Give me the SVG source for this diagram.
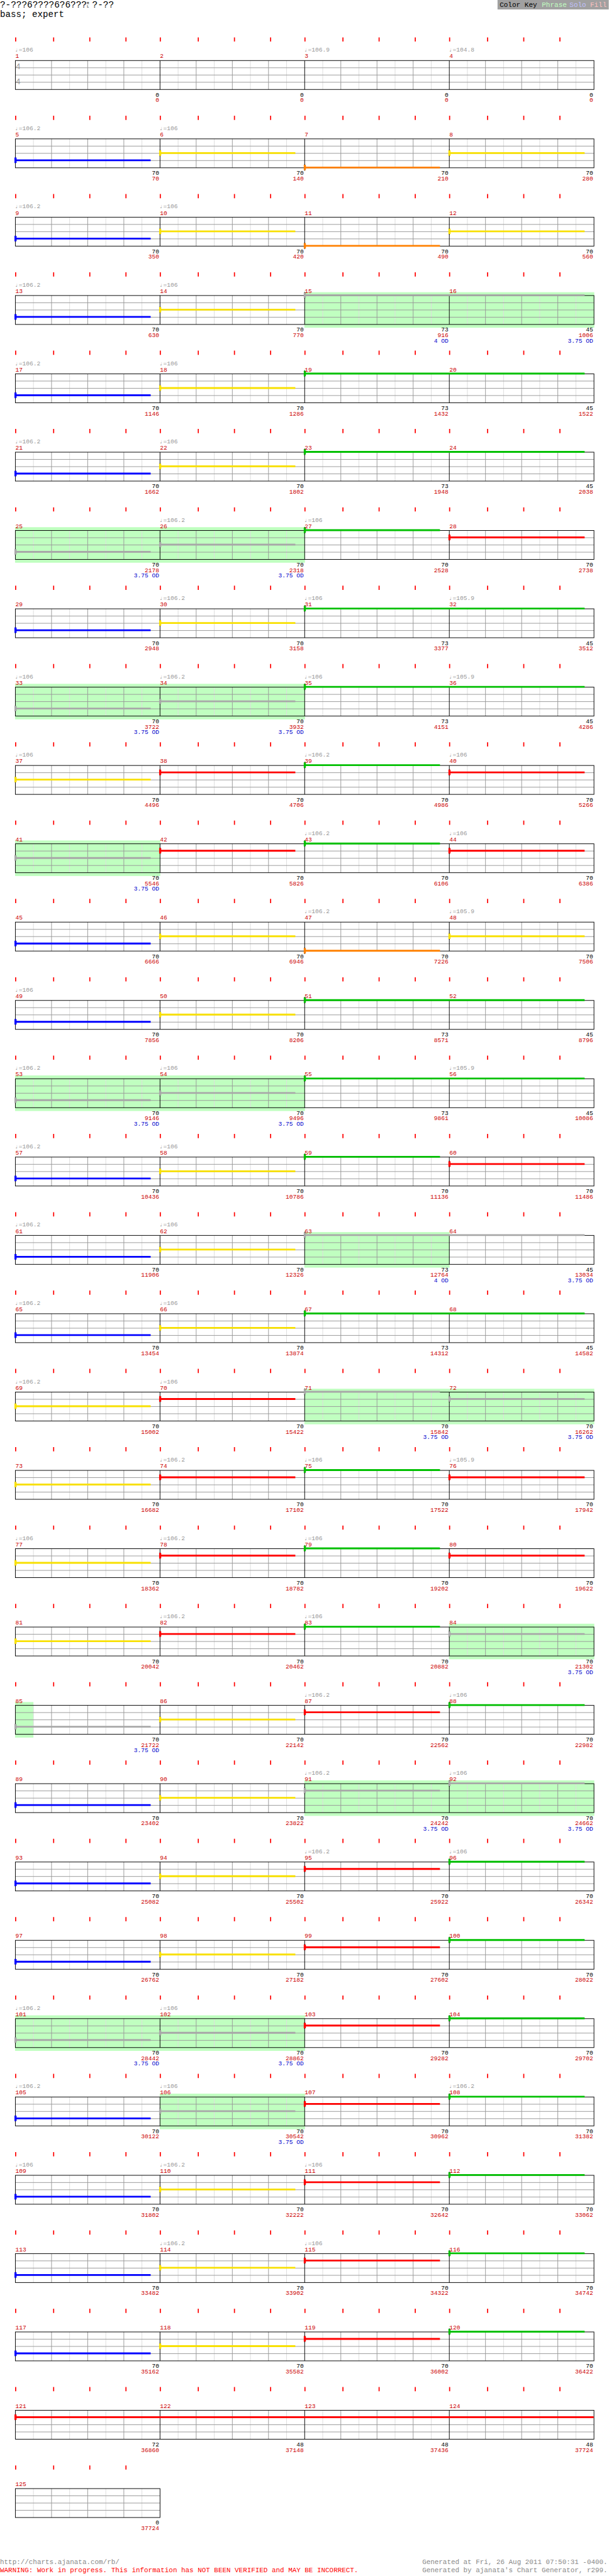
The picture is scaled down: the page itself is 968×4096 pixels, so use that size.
<svg xmlns="http://www.w3.org/2000/svg" xmlns:xlink="http://www.w3.org/1999/xlink" width="968" height="4096" viewBox="0 0 968 4096">
<defs>
<style>
text{font-family:"Liberation Mono","DejaVu Sans Mono",monospace;font-size:10px}
.tk{stroke:#f00;stroke-width:1.8;fill:none}
.hb{stroke:#ddd;stroke-width:1;fill:none}
.bt{stroke:#999;stroke-width:1;fill:none}
.ms{stroke:#000;stroke-width:1;fill:none}
.fl{fill:#c0ffc0}
.sus{stroke:currentColor;stroke-width:3;fill:none}
.k{stroke:#000;stroke-width:1;fill:none}
.G{color:#00c000}.R{color:#f00}.Y{color:#f8e000}.B{color:#00f}.O{color:#ff8000}.P{color:#a8a8a8}
.tm{fill:#999}
.mn{fill:#c00}
.lk{fill:#000;text-anchor:end}
.lr{fill:#c00;text-anchor:end}
.lo{fill:#00c;text-anchor:end}
.ts{font-family:"Liberation Sans",Arial,sans-serif;font-size:14px;fill:#999}
.ft{font-size:11.4px}
</style>
<g id="st4">
<path class="hb" d="M30 0V48M90 0V48M150 0V48M210 0V48M270 0V48M330 0V48M390 0V48M450 0V48M510 0V48M570 0V48M630 0V48M690 0V48M750 0V48M810 0V48M870 0V48M930 0V48"/>
<path class="bt" d="M60 0V48M120 0V48M180 0V48M300 0V48M360 0V48M420 0V48M540 0V48M600 0V48M660 0V48M780 0V48M840 0V48M900 0V48M0 12H960M0 24H960M0 36H960"/>
<path class="ms" d="M240 0V48M480 0V48M720 0V48"/>
<rect class="ms" x="0" y="0" width="960" height="48"/>
</g>
<g id="st1">
<path class="hb" d="M30 0V48M90 0V48M150 0V48M210 0V48"/>
<path class="bt" d="M60 0V48M120 0V48M180 0V48M0 12H240M0 24H240M0 36H240"/>
<rect class="ms" x="0" y="0" width="240" height="48"/>
</g>
<path id="tk4" class="tk" d="M26 -38v7M89 -38v7M149 -38v7M209 -38v7M266 -38v7M329 -38v7M389 -38v7M449 -38v7M506 -38v7M569 -38v7M629 -38v7M689 -38v7M746 -38v7M809 -38v7M869 -38v7M929 -38v7"/>
<path id="tk1" class="tk" d="M26 -38v7M89 -38v7M149 -38v7M209 -38v7"/>
<g id="hd"><path class="k" d="M0.5 -5.5v11"/><rect x="-1" y="-4.5" width="3.5" height="9" fill="currentColor"/></g>
</defs>
<rect x="0" y="0" width="968" height="4096" fill="#fff"/>
<g transform="scale(0.958)">

<g id="header">
<text x="0" y="12.7" style="font-size:15px">?-???6????6?6???</text>
<text x="144" y="7.5" style="font-size:6px">M</text>
<text x="144" y="12.7" style="font-size:6px">L</text>
<text x="153" y="12.7" style="font-size:15px">?-??</text>
<text x="0" y="28.3" style="font-size:14.8px">bass; expert</text>
</g>
<g id="colorkey">
<rect x="825.5" y="0" width="184.5" height="15.7" fill="#a0a0a0"/>
<text x="829" y="11.3" style="font-size:11.5px" fill="#000">Color Key</text>
<text x="899" y="11.3" style="font-size:11.5px" fill="#c0ffc0">Phrase</text>
<text x="945" y="11.3" style="font-size:11.5px" fill="#c0c0ff">Solo</text>
<text x="979" y="11.3" style="font-size:11.5px" fill="#ffc0c0">Fill</text>
</g>

<g id="row1" transform="translate(0,100)">
<use href="#tk4"/><use href="#st4" x="25.5" y="0.5"/>
<text class="ts" x="26" y="15">4</text><text class="ts" x="26" y="40">4</text>
<text class="tm" x="25" y="-14">♩=106</text><text class="tm" x="505" y="-14">♩=106.9</text><text class="tm" x="745" y="-14">♩=104.8</text>
<text class="mn" x="25.5" y="-3.5">1</text><text class="mn" x="265.5" y="-3.5">2</text><text class="mn" x="505.5" y="-3.5">3</text><text class="mn" x="745.5" y="-3.5">4</text>
<text class="lk" x="264" y="60.5">0</text><text class="lr" x="264" y="69.5">0</text>
<text class="lk" x="504" y="60.5">0</text><text class="lr" x="504" y="69.5">0</text>
<text class="lk" x="744" y="60.5">0</text><text class="lr" x="744" y="69.5">0</text>
<text class="lk" x="984" y="60.5">0</text><text class="lr" x="984" y="69.5">0</text>
</g>

<g id="row2" transform="translate(0,230)">
<use href="#tk4"/><use href="#st4" x="25.5" y="0.5"/>
<g class="B"><path class="sus" d="M25 36h225"/><use href="#hd" x="25" y="36"/></g>
<g class="Y"><path class="sus" d="M265 24h225"/><use href="#hd" x="265" y="24"/></g>
<g class="O"><path class="sus" d="M505 48h225"/><use href="#hd" x="505" y="48"/></g>
<g class="Y"><path class="sus" d="M745 24h225"/><use href="#hd" x="745" y="24"/></g>
<text class="tm" x="25" y="-14">♩=106.2</text><text class="tm" x="265" y="-14">♩=106</text>
<text class="mn" x="25.5" y="-3.5">5</text><text class="mn" x="265.5" y="-3.5">6</text><text class="mn" x="505.5" y="-3.5">7</text><text class="mn" x="745.5" y="-3.5">8</text>
<text class="lk" x="264" y="60.5">70</text><text class="lr" x="264" y="69.5">70</text>
<text class="lk" x="504" y="60.5">70</text><text class="lr" x="504" y="69.5">140</text>
<text class="lk" x="744" y="60.5">70</text><text class="lr" x="744" y="69.5">210</text>
<text class="lk" x="984" y="60.5">70</text><text class="lr" x="984" y="69.5">280</text>
</g>

<g id="row3" transform="translate(0,360)">
<use href="#tk4"/><use href="#st4" x="25.5" y="0.5"/>
<g class="B"><path class="sus" d="M25 36h225"/><use href="#hd" x="25" y="36"/></g>
<g class="Y"><path class="sus" d="M265 24h225"/><use href="#hd" x="265" y="24"/></g>
<g class="O"><path class="sus" d="M505 48h225"/><use href="#hd" x="505" y="48"/></g>
<g class="Y"><path class="sus" d="M745 24h225"/><use href="#hd" x="745" y="24"/></g>
<text class="tm" x="25" y="-14">♩=106.2</text><text class="tm" x="265" y="-14">♩=106</text>
<text class="mn" x="25.5" y="-3.5">9</text><text class="mn" x="265.5" y="-3.5">10</text><text class="mn" x="505.5" y="-3.5">11</text><text class="mn" x="745.5" y="-3.5">12</text>
<text class="lk" x="264" y="60.5">70</text><text class="lr" x="264" y="69.5">350</text>
<text class="lk" x="504" y="60.5">70</text><text class="lr" x="504" y="69.5">420</text>
<text class="lk" x="744" y="60.5">70</text><text class="lr" x="744" y="69.5">490</text>
<text class="lk" x="984" y="60.5">70</text><text class="lr" x="984" y="69.5">560</text>
</g>

<g id="row4" transform="translate(0,490)">
<rect class="fl" x="505" y="-5" width="481" height="59"/>
<use href="#tk4"/><use href="#st4" x="25.5" y="0.5"/>
<g class="B"><path class="sus" d="M25 36h225"/><use href="#hd" x="25" y="36"/></g>
<g class="Y"><path class="sus" d="M265 24h225"/><use href="#hd" x="265" y="24"/></g>
<g class="P"><path class="sus" d="M505 0h465"/><use href="#hd" x="505" y="0"/></g>
<text class="tm" x="25" y="-14">♩=106.2</text><text class="tm" x="265" y="-14">♩=106</text>
<text class="mn" x="25.5" y="-3.5">13</text><text class="mn" x="265.5" y="-3.5">14</text><text class="mn" x="505.5" y="-3.5">15</text><text class="mn" x="745.5" y="-3.5">16</text>
<text class="lk" x="264" y="60.5">70</text><text class="lr" x="264" y="69.5">630</text>
<text class="lk" x="504" y="60.5">70</text><text class="lr" x="504" y="69.5">770</text>
<text class="lk" x="744" y="60.5">73</text><text class="lr" x="744" y="69.5">916</text><text class="lo" x="744" y="78.5">4 OD</text>
<text class="lk" x="984" y="60.5">45</text><text class="lr" x="984" y="69.5">1006</text><text class="lo" x="984" y="78.5">3.75 OD</text>
</g>

<g id="row5" transform="translate(0,620)">
<use href="#tk4"/><use href="#st4" x="25.5" y="0.5"/>
<g class="B"><path class="sus" d="M25 36h225"/><use href="#hd" x="25" y="36"/></g>
<g class="Y"><path class="sus" d="M265 24h225"/><use href="#hd" x="265" y="24"/></g>
<g class="G"><path class="sus" d="M505 0h465"/><use href="#hd" x="505" y="0"/></g>
<text class="tm" x="25" y="-14">♩=106.2</text><text class="tm" x="265" y="-14">♩=106</text>
<text class="mn" x="25.5" y="-3.5">17</text><text class="mn" x="265.5" y="-3.5">18</text><text class="mn" x="505.5" y="-3.5">19</text><text class="mn" x="745.5" y="-3.5">20</text>
<text class="lk" x="264" y="60.5">70</text><text class="lr" x="264" y="69.5">1146</text>
<text class="lk" x="504" y="60.5">70</text><text class="lr" x="504" y="69.5">1286</text>
<text class="lk" x="744" y="60.5">73</text><text class="lr" x="744" y="69.5">1432</text>
<text class="lk" x="984" y="60.5">45</text><text class="lr" x="984" y="69.5">1522</text>
</g>

<g id="row6" transform="translate(0,750)">
<use href="#tk4"/><use href="#st4" x="25.5" y="0.5"/>
<g class="B"><path class="sus" d="M25 36h225"/><use href="#hd" x="25" y="36"/></g>
<g class="Y"><path class="sus" d="M265 24h225"/><use href="#hd" x="265" y="24"/></g>
<g class="G"><path class="sus" d="M505 0h465"/><use href="#hd" x="505" y="0"/></g>
<text class="tm" x="25" y="-14">♩=106.2</text><text class="tm" x="265" y="-14">♩=106</text>
<text class="mn" x="25.5" y="-3.5">21</text><text class="mn" x="265.5" y="-3.5">22</text><text class="mn" x="505.5" y="-3.5">23</text><text class="mn" x="745.5" y="-3.5">24</text>
<text class="lk" x="264" y="60.5">70</text><text class="lr" x="264" y="69.5">1662</text>
<text class="lk" x="504" y="60.5">70</text><text class="lr" x="504" y="69.5">1802</text>
<text class="lk" x="744" y="60.5">73</text><text class="lr" x="744" y="69.5">1948</text>
<text class="lk" x="984" y="60.5">45</text><text class="lr" x="984" y="69.5">2038</text>
</g>

<g id="row7" transform="translate(0,880)">
<rect class="fl" x="25" y="-5" width="481" height="59"/>
<use href="#tk4"/><use href="#st4" x="25.5" y="0.5"/>
<g class="P"><path class="sus" d="M25 36h225"/><use href="#hd" x="25" y="36"/></g>
<g class="P"><path class="sus" d="M265 24h225"/><use href="#hd" x="265" y="24"/></g>
<g class="G"><path class="sus" d="M505 0h225"/><use href="#hd" x="505" y="0"/></g>
<g class="R"><path class="sus" d="M745 12h225"/><use href="#hd" x="745" y="12"/></g>
<text class="tm" x="265" y="-14">♩=106.2</text><text class="tm" x="505" y="-14">♩=106</text>
<text class="mn" x="25.5" y="-3.5">25</text><text class="mn" x="265.5" y="-3.5">26</text><text class="mn" x="505.5" y="-3.5">27</text><text class="mn" x="745.5" y="-3.5">28</text>
<text class="lk" x="264" y="60.5">70</text><text class="lr" x="264" y="69.5">2178</text><text class="lo" x="264" y="78.5">3.75 OD</text>
<text class="lk" x="504" y="60.5">70</text><text class="lr" x="504" y="69.5">2318</text><text class="lo" x="504" y="78.5">3.75 OD</text>
<text class="lk" x="744" y="60.5">70</text><text class="lr" x="744" y="69.5">2528</text>
<text class="lk" x="984" y="60.5">70</text><text class="lr" x="984" y="69.5">2738</text>
</g>

<g id="row8" transform="translate(0,1010)">
<use href="#tk4"/><use href="#st4" x="25.5" y="0.5"/>
<g class="B"><path class="sus" d="M25 36h225"/><use href="#hd" x="25" y="36"/></g>
<g class="Y"><path class="sus" d="M265 24h225"/><use href="#hd" x="265" y="24"/></g>
<g class="G"><path class="sus" d="M505 0h465"/><use href="#hd" x="505" y="0"/></g>
<text class="tm" x="265" y="-14">♩=106.2</text><text class="tm" x="505" y="-14">♩=106</text><text class="tm" x="745" y="-14">♩=105.9</text>
<text class="mn" x="25.5" y="-3.5">29</text><text class="mn" x="265.5" y="-3.5">30</text><text class="mn" x="505.5" y="-3.5">31</text><text class="mn" x="745.5" y="-3.5">32</text>
<text class="lk" x="264" y="60.5">70</text><text class="lr" x="264" y="69.5">2948</text>
<text class="lk" x="504" y="60.5">70</text><text class="lr" x="504" y="69.5">3158</text>
<text class="lk" x="744" y="60.5">73</text><text class="lr" x="744" y="69.5">3377</text>
<text class="lk" x="984" y="60.5">45</text><text class="lr" x="984" y="69.5">3512</text>
</g>

<g id="row9" transform="translate(0,1140)">
<rect class="fl" x="25" y="-5" width="481" height="59"/>
<use href="#tk4"/><use href="#st4" x="25.5" y="0.5"/>
<g class="P"><path class="sus" d="M25 36h225"/><use href="#hd" x="25" y="36"/></g>
<g class="P"><path class="sus" d="M265 24h225"/><use href="#hd" x="265" y="24"/></g>
<g class="G"><path class="sus" d="M505 0h465"/><use href="#hd" x="505" y="0"/></g>
<text class="tm" x="25" y="-14">♩=106</text><text class="tm" x="265" y="-14">♩=106.2</text><text class="tm" x="505" y="-14">♩=106</text><text class="tm" x="745" y="-14">♩=105.9</text>
<text class="mn" x="25.5" y="-3.5">33</text><text class="mn" x="265.5" y="-3.5">34</text><text class="mn" x="505.5" y="-3.5">35</text><text class="mn" x="745.5" y="-3.5">36</text>
<text class="lk" x="264" y="60.5">70</text><text class="lr" x="264" y="69.5">3722</text><text class="lo" x="264" y="78.5">3.75 OD</text>
<text class="lk" x="504" y="60.5">70</text><text class="lr" x="504" y="69.5">3932</text><text class="lo" x="504" y="78.5">3.75 OD</text>
<text class="lk" x="744" y="60.5">73</text><text class="lr" x="744" y="69.5">4151</text>
<text class="lk" x="984" y="60.5">45</text><text class="lr" x="984" y="69.5">4286</text>
</g>

<g id="row10" transform="translate(0,1270)">
<use href="#tk4"/><use href="#st4" x="25.5" y="0.5"/>
<g class="Y"><path class="sus" d="M25 24h225"/><use href="#hd" x="25" y="24"/></g>
<g class="R"><path class="sus" d="M265 12h225"/><use href="#hd" x="265" y="12"/></g>
<g class="G"><path class="sus" d="M505 0h225"/><use href="#hd" x="505" y="0"/></g>
<g class="R"><path class="sus" d="M745 12h225"/><use href="#hd" x="745" y="12"/></g>
<text class="tm" x="25" y="-14">♩=106</text><text class="tm" x="505" y="-14">♩=106.2</text><text class="tm" x="745" y="-14">♩=106</text>
<text class="mn" x="25.5" y="-3.5">37</text><text class="mn" x="265.5" y="-3.5">38</text><text class="mn" x="505.5" y="-3.5">39</text><text class="mn" x="745.5" y="-3.5">40</text>
<text class="lk" x="264" y="60.5">70</text><text class="lr" x="264" y="69.5">4496</text>
<text class="lk" x="504" y="60.5">70</text><text class="lr" x="504" y="69.5">4706</text>
<text class="lk" x="744" y="60.5">70</text><text class="lr" x="744" y="69.5">4986</text>
<text class="lk" x="984" y="60.5">70</text><text class="lr" x="984" y="69.5">5266</text>
</g>

<g id="row11" transform="translate(0,1400)">
<rect class="fl" x="25" y="-5" width="241" height="59"/>
<use href="#tk4"/><use href="#st4" x="25.5" y="0.5"/>
<g class="P"><path class="sus" d="M25 24h225"/><use href="#hd" x="25" y="24"/></g>
<g class="R"><path class="sus" d="M265 12h225"/><use href="#hd" x="265" y="12"/></g>
<g class="G"><path class="sus" d="M505 0h225"/><use href="#hd" x="505" y="0"/></g>
<g class="R"><path class="sus" d="M745 12h225"/><use href="#hd" x="745" y="12"/></g>
<text class="tm" x="505" y="-14">♩=106.2</text><text class="tm" x="745" y="-14">♩=106</text>
<text class="mn" x="25.5" y="-3.5">41</text><text class="mn" x="265.5" y="-3.5">42</text><text class="mn" x="505.5" y="-3.5">43</text><text class="mn" x="745.5" y="-3.5">44</text>
<text class="lk" x="264" y="60.5">70</text><text class="lr" x="264" y="69.5">5546</text><text class="lo" x="264" y="78.5">3.75 OD</text>
<text class="lk" x="504" y="60.5">70</text><text class="lr" x="504" y="69.5">5826</text>
<text class="lk" x="744" y="60.5">70</text><text class="lr" x="744" y="69.5">6106</text>
<text class="lk" x="984" y="60.5">70</text><text class="lr" x="984" y="69.5">6386</text>
</g>

<g id="row12" transform="translate(0,1530)">
<use href="#tk4"/><use href="#st4" x="25.5" y="0.5"/>
<g class="B"><path class="sus" d="M25 36h225"/><use href="#hd" x="25" y="36"/></g>
<g class="Y"><path class="sus" d="M265 24h225"/><use href="#hd" x="265" y="24"/></g>
<g class="O"><path class="sus" d="M505 48h225"/><use href="#hd" x="505" y="48"/></g>
<g class="Y"><path class="sus" d="M745 24h225"/><use href="#hd" x="745" y="24"/></g>
<text class="tm" x="505" y="-14">♩=106.2</text><text class="tm" x="745" y="-14">♩=105.9</text>
<text class="mn" x="25.5" y="-3.5">45</text><text class="mn" x="265.5" y="-3.5">46</text><text class="mn" x="505.5" y="-3.5">47</text><text class="mn" x="745.5" y="-3.5">48</text>
<text class="lk" x="264" y="60.5">70</text><text class="lr" x="264" y="69.5">6666</text>
<text class="lk" x="504" y="60.5">70</text><text class="lr" x="504" y="69.5">6946</text>
<text class="lk" x="744" y="60.5">70</text><text class="lr" x="744" y="69.5">7226</text>
<text class="lk" x="984" y="60.5">70</text><text class="lr" x="984" y="69.5">7506</text>
</g>

<g id="row13" transform="translate(0,1660)">
<use href="#tk4"/><use href="#st4" x="25.5" y="0.5"/>
<g class="B"><path class="sus" d="M25 36h225"/><use href="#hd" x="25" y="36"/></g>
<g class="Y"><path class="sus" d="M265 24h225"/><use href="#hd" x="265" y="24"/></g>
<g class="G"><path class="sus" d="M505 0h465"/><use href="#hd" x="505" y="0"/></g>
<text class="tm" x="25" y="-14">♩=106</text>
<text class="mn" x="25.5" y="-3.5">49</text><text class="mn" x="265.5" y="-3.5">50</text><text class="mn" x="505.5" y="-3.5">51</text><text class="mn" x="745.5" y="-3.5">52</text>
<text class="lk" x="264" y="60.5">70</text><text class="lr" x="264" y="69.5">7856</text>
<text class="lk" x="504" y="60.5">70</text><text class="lr" x="504" y="69.5">8206</text>
<text class="lk" x="744" y="60.5">73</text><text class="lr" x="744" y="69.5">8571</text>
<text class="lk" x="984" y="60.5">45</text><text class="lr" x="984" y="69.5">8796</text>
</g>

<g id="row14" transform="translate(0,1790)">
<rect class="fl" x="25" y="-5" width="481" height="59"/>
<use href="#tk4"/><use href="#st4" x="25.5" y="0.5"/>
<g class="P"><path class="sus" d="M25 36h225"/><use href="#hd" x="25" y="36"/></g>
<g class="P"><path class="sus" d="M265 24h225"/><use href="#hd" x="265" y="24"/></g>
<g class="G"><path class="sus" d="M505 0h465"/><use href="#hd" x="505" y="0"/></g>
<text class="tm" x="25" y="-14">♩=106.2</text><text class="tm" x="265" y="-14">♩=106</text><text class="tm" x="745" y="-14">♩=105.9</text>
<text class="mn" x="25.5" y="-3.5">53</text><text class="mn" x="265.5" y="-3.5">54</text><text class="mn" x="505.5" y="-3.5">55</text><text class="mn" x="745.5" y="-3.5">56</text>
<text class="lk" x="264" y="60.5">70</text><text class="lr" x="264" y="69.5">9146</text><text class="lo" x="264" y="78.5">3.75 OD</text>
<text class="lk" x="504" y="60.5">70</text><text class="lr" x="504" y="69.5">9496</text><text class="lo" x="504" y="78.5">3.75 OD</text>
<text class="lk" x="744" y="60.5">73</text><text class="lr" x="744" y="69.5">9861</text>
<text class="lk" x="984" y="60.5">45</text><text class="lr" x="984" y="69.5">10086</text>
</g>

<g id="row15" transform="translate(0,1920)">
<use href="#tk4"/><use href="#st4" x="25.5" y="0.5"/>
<g class="B"><path class="sus" d="M25 36h225"/><use href="#hd" x="25" y="36"/></g>
<g class="Y"><path class="sus" d="M265 24h225"/><use href="#hd" x="265" y="24"/></g>
<g class="G"><path class="sus" d="M505 0h225"/><use href="#hd" x="505" y="0"/></g>
<g class="R"><path class="sus" d="M745 12h225"/><use href="#hd" x="745" y="12"/></g>
<text class="tm" x="25" y="-14">♩=106.2</text><text class="tm" x="265" y="-14">♩=106</text>
<text class="mn" x="25.5" y="-3.5">57</text><text class="mn" x="265.5" y="-3.5">58</text><text class="mn" x="505.5" y="-3.5">59</text><text class="mn" x="745.5" y="-3.5">60</text>
<text class="lk" x="264" y="60.5">70</text><text class="lr" x="264" y="69.5">10436</text>
<text class="lk" x="504" y="60.5">70</text><text class="lr" x="504" y="69.5">10786</text>
<text class="lk" x="744" y="60.5">70</text><text class="lr" x="744" y="69.5">11136</text>
<text class="lk" x="984" y="60.5">70</text><text class="lr" x="984" y="69.5">11486</text>
</g>

<g id="row16" transform="translate(0,2050)">
<rect class="fl" x="505" y="-5" width="241" height="59"/>
<use href="#tk4"/><use href="#st4" x="25.5" y="0.5"/>
<g class="B"><path class="sus" d="M25 36h225"/><use href="#hd" x="25" y="36"/></g>
<g class="Y"><path class="sus" d="M265 24h225"/><use href="#hd" x="265" y="24"/></g>
<g class="P"><path class="sus" d="M505 0h465"/><use href="#hd" x="505" y="0"/></g>
<text class="tm" x="25" y="-14">♩=106.2</text><text class="tm" x="265" y="-14">♩=106</text>
<text class="mn" x="25.5" y="-3.5">61</text><text class="mn" x="265.5" y="-3.5">62</text><text class="mn" x="505.5" y="-3.5">63</text><text class="mn" x="745.5" y="-3.5">64</text>
<text class="lk" x="264" y="60.5">70</text><text class="lr" x="264" y="69.5">11906</text>
<text class="lk" x="504" y="60.5">70</text><text class="lr" x="504" y="69.5">12326</text>
<text class="lk" x="744" y="60.5">73</text><text class="lr" x="744" y="69.5">12764</text><text class="lo" x="744" y="78.5">4 OD</text>
<text class="lk" x="984" y="60.5">45</text><text class="lr" x="984" y="69.5">13034</text><text class="lo" x="984" y="78.5">3.75 OD</text>
</g>

<g id="row17" transform="translate(0,2180)">
<use href="#tk4"/><use href="#st4" x="25.5" y="0.5"/>
<g class="B"><path class="sus" d="M25 36h225"/><use href="#hd" x="25" y="36"/></g>
<g class="Y"><path class="sus" d="M265 24h225"/><use href="#hd" x="265" y="24"/></g>
<g class="G"><path class="sus" d="M505 0h465"/><use href="#hd" x="505" y="0"/></g>
<text class="tm" x="25" y="-14">♩=106.2</text><text class="tm" x="265" y="-14">♩=106</text>
<text class="mn" x="25.5" y="-3.5">65</text><text class="mn" x="265.5" y="-3.5">66</text><text class="mn" x="505.5" y="-3.5">67</text><text class="mn" x="745.5" y="-3.5">68</text>
<text class="lk" x="264" y="60.5">70</text><text class="lr" x="264" y="69.5">13454</text>
<text class="lk" x="504" y="60.5">70</text><text class="lr" x="504" y="69.5">13874</text>
<text class="lk" x="744" y="60.5">73</text><text class="lr" x="744" y="69.5">14312</text>
<text class="lk" x="984" y="60.5">45</text><text class="lr" x="984" y="69.5">14582</text>
</g>

<g id="row18" transform="translate(0,2310)">
<rect class="fl" x="505" y="-5" width="481" height="59"/>
<use href="#tk4"/><use href="#st4" x="25.5" y="0.5"/>
<g class="Y"><path class="sus" d="M25 24h225"/><use href="#hd" x="25" y="24"/></g>
<g class="R"><path class="sus" d="M265 12h225"/><use href="#hd" x="265" y="12"/></g>
<g class="P"><path class="sus" d="M505 0h225"/><use href="#hd" x="505" y="0"/></g>
<g class="P"><path class="sus" d="M745 12h225"/><use href="#hd" x="745" y="12"/></g>
<text class="tm" x="25" y="-14">♩=106.2</text><text class="tm" x="265" y="-14">♩=106</text>
<text class="mn" x="25.5" y="-3.5">69</text><text class="mn" x="265.5" y="-3.5">70</text><text class="mn" x="505.5" y="-3.5">71</text><text class="mn" x="745.5" y="-3.5">72</text>
<text class="lk" x="264" y="60.5">70</text><text class="lr" x="264" y="69.5">15002</text>
<text class="lk" x="504" y="60.5">70</text><text class="lr" x="504" y="69.5">15422</text>
<text class="lk" x="744" y="60.5">70</text><text class="lr" x="744" y="69.5">15842</text><text class="lo" x="744" y="78.5">3.75 OD</text>
<text class="lk" x="984" y="60.5">70</text><text class="lr" x="984" y="69.5">16262</text><text class="lo" x="984" y="78.5">3.75 OD</text>
</g>

<g id="row19" transform="translate(0,2440)">
<use href="#tk4"/><use href="#st4" x="25.5" y="0.5"/>
<g class="Y"><path class="sus" d="M25 24h225"/><use href="#hd" x="25" y="24"/></g>
<g class="R"><path class="sus" d="M265 12h225"/><use href="#hd" x="265" y="12"/></g>
<g class="G"><path class="sus" d="M505 0h225"/><use href="#hd" x="505" y="0"/></g>
<g class="R"><path class="sus" d="M745 12h225"/><use href="#hd" x="745" y="12"/></g>
<text class="tm" x="265" y="-14">♩=106.2</text><text class="tm" x="505" y="-14">♩=106</text><text class="tm" x="745" y="-14">♩=105.9</text>
<text class="mn" x="25.5" y="-3.5">73</text><text class="mn" x="265.5" y="-3.5">74</text><text class="mn" x="505.5" y="-3.5">75</text><text class="mn" x="745.5" y="-3.5">76</text>
<text class="lk" x="264" y="60.5">70</text><text class="lr" x="264" y="69.5">16682</text>
<text class="lk" x="504" y="60.5">70</text><text class="lr" x="504" y="69.5">17102</text>
<text class="lk" x="744" y="60.5">70</text><text class="lr" x="744" y="69.5">17522</text>
<text class="lk" x="984" y="60.5">70</text><text class="lr" x="984" y="69.5">17942</text>
</g>

<g id="row20" transform="translate(0,2570)">
<use href="#tk4"/><use href="#st4" x="25.5" y="0.5"/>
<g class="Y"><path class="sus" d="M25 24h225"/><use href="#hd" x="25" y="24"/></g>
<g class="R"><path class="sus" d="M265 12h225"/><use href="#hd" x="265" y="12"/></g>
<g class="G"><path class="sus" d="M505 0h225"/><use href="#hd" x="505" y="0"/></g>
<g class="R"><path class="sus" d="M745 12h225"/><use href="#hd" x="745" y="12"/></g>
<text class="tm" x="25" y="-14">♩=106</text><text class="tm" x="265" y="-14">♩=106.2</text><text class="tm" x="505" y="-14">♩=106</text>
<text class="mn" x="25.5" y="-3.5">77</text><text class="mn" x="265.5" y="-3.5">78</text><text class="mn" x="505.5" y="-3.5">79</text><text class="mn" x="745.5" y="-3.5">80</text>
<text class="lk" x="264" y="60.5">70</text><text class="lr" x="264" y="69.5">18362</text>
<text class="lk" x="504" y="60.5">70</text><text class="lr" x="504" y="69.5">18782</text>
<text class="lk" x="744" y="60.5">70</text><text class="lr" x="744" y="69.5">19202</text>
<text class="lk" x="984" y="60.5">70</text><text class="lr" x="984" y="69.5">19622</text>
</g>

<g id="row21" transform="translate(0,2700)">
<rect class="fl" x="745" y="-5" width="241" height="59"/>
<use href="#tk4"/><use href="#st4" x="25.5" y="0.5"/>
<g class="Y"><path class="sus" d="M25 24h225"/><use href="#hd" x="25" y="24"/></g>
<g class="R"><path class="sus" d="M265 12h225"/><use href="#hd" x="265" y="12"/></g>
<g class="G"><path class="sus" d="M505 0h225"/><use href="#hd" x="505" y="0"/></g>
<g class="P"><path class="sus" d="M745 12h225"/><use href="#hd" x="745" y="12"/></g>
<text class="tm" x="265" y="-14">♩=106.2</text><text class="tm" x="505" y="-14">♩=106</text>
<text class="mn" x="25.5" y="-3.5">81</text><text class="mn" x="265.5" y="-3.5">82</text><text class="mn" x="505.5" y="-3.5">83</text><text class="mn" x="745.5" y="-3.5">84</text>
<text class="lk" x="264" y="60.5">70</text><text class="lr" x="264" y="69.5">20042</text>
<text class="lk" x="504" y="60.5">70</text><text class="lr" x="504" y="69.5">20462</text>
<text class="lk" x="744" y="60.5">70</text><text class="lr" x="744" y="69.5">20882</text>
<text class="lk" x="984" y="60.5">70</text><text class="lr" x="984" y="69.5">21302</text><text class="lo" x="984" y="78.5">3.75 OD</text>
</g>

<g id="row22" transform="translate(0,2830)">
<rect class="fl" x="25" y="-5" width="30.5" height="59"/>
<use href="#tk4"/><use href="#st4" x="25.5" y="0.5"/>
<g class="P"><path class="sus" d="M25 36h225"/><use href="#hd" x="25" y="36"/></g>
<g class="Y"><path class="sus" d="M265 24h225"/><use href="#hd" x="265" y="24"/></g>
<g class="R"><path class="sus" d="M505 12h225"/><use href="#hd" x="505" y="12"/></g>
<g class="G"><path class="sus" d="M745 0h225"/><use href="#hd" x="745" y="0"/></g>
<text class="tm" x="505" y="-14">♩=106.2</text><text class="tm" x="745" y="-14">♩=106</text>
<text class="mn" x="25.5" y="-3.5">85</text><text class="mn" x="265.5" y="-3.5">86</text><text class="mn" x="505.5" y="-3.5">87</text><text class="mn" x="745.5" y="-3.5">88</text>
<text class="lk" x="264" y="60.5">70</text><text class="lr" x="264" y="69.5">21722</text><text class="lo" x="264" y="78.5">3.75 OD</text>
<text class="lk" x="504" y="60.5">70</text><text class="lr" x="504" y="69.5">22142</text>
<text class="lk" x="744" y="60.5">70</text><text class="lr" x="744" y="69.5">22562</text>
<text class="lk" x="984" y="60.5">70</text><text class="lr" x="984" y="69.5">22982</text>
</g>

<g id="row23" transform="translate(0,2960)">
<rect class="fl" x="505" y="-5" width="481" height="59"/>
<use href="#tk4"/><use href="#st4" x="25.5" y="0.5"/>
<g class="B"><path class="sus" d="M25 36h225"/><use href="#hd" x="25" y="36"/></g>
<g class="Y"><path class="sus" d="M265 24h225"/><use href="#hd" x="265" y="24"/></g>
<g class="P"><path class="sus" d="M505 12h225"/><use href="#hd" x="505" y="12"/></g>
<g class="P"><path class="sus" d="M745 0h225"/><use href="#hd" x="745" y="0"/></g>
<text class="tm" x="505" y="-14">♩=106.2</text><text class="tm" x="745" y="-14">♩=106</text>
<text class="mn" x="25.5" y="-3.5">89</text><text class="mn" x="265.5" y="-3.5">90</text><text class="mn" x="505.5" y="-3.5">91</text><text class="mn" x="745.5" y="-3.5">92</text>
<text class="lk" x="264" y="60.5">70</text><text class="lr" x="264" y="69.5">23402</text>
<text class="lk" x="504" y="60.5">70</text><text class="lr" x="504" y="69.5">23822</text>
<text class="lk" x="744" y="60.5">70</text><text class="lr" x="744" y="69.5">24242</text><text class="lo" x="744" y="78.5">3.75 OD</text>
<text class="lk" x="984" y="60.5">70</text><text class="lr" x="984" y="69.5">24662</text><text class="lo" x="984" y="78.5">3.75 OD</text>
</g>

<g id="row24" transform="translate(0,3090)">
<use href="#tk4"/><use href="#st4" x="25.5" y="0.5"/>
<g class="B"><path class="sus" d="M25 36h225"/><use href="#hd" x="25" y="36"/></g>
<g class="Y"><path class="sus" d="M265 24h225"/><use href="#hd" x="265" y="24"/></g>
<g class="R"><path class="sus" d="M505 12h225"/><use href="#hd" x="505" y="12"/></g>
<g class="G"><path class="sus" d="M745 0h225"/><use href="#hd" x="745" y="0"/></g>
<text class="tm" x="505" y="-14">♩=106.2</text><text class="tm" x="745" y="-14">♩=106</text>
<text class="mn" x="25.5" y="-3.5">93</text><text class="mn" x="265.5" y="-3.5">94</text><text class="mn" x="505.5" y="-3.5">95</text><text class="mn" x="745.5" y="-3.5">96</text>
<text class="lk" x="264" y="60.5">70</text><text class="lr" x="264" y="69.5">25082</text>
<text class="lk" x="504" y="60.5">70</text><text class="lr" x="504" y="69.5">25502</text>
<text class="lk" x="744" y="60.5">70</text><text class="lr" x="744" y="69.5">25922</text>
<text class="lk" x="984" y="60.5">70</text><text class="lr" x="984" y="69.5">26342</text>
</g>

<g id="row25" transform="translate(0,3220)">
<use href="#tk4"/><use href="#st4" x="25.5" y="0.5"/>
<g class="B"><path class="sus" d="M25 36h225"/><use href="#hd" x="25" y="36"/></g>
<g class="Y"><path class="sus" d="M265 24h225"/><use href="#hd" x="265" y="24"/></g>
<g class="R"><path class="sus" d="M505 12h225"/><use href="#hd" x="505" y="12"/></g>
<g class="G"><path class="sus" d="M745 0h225"/><use href="#hd" x="745" y="0"/></g>
<text class="mn" x="25.5" y="-3.5">97</text><text class="mn" x="265.5" y="-3.5">98</text><text class="mn" x="505.5" y="-3.5">99</text><text class="mn" x="745.5" y="-3.5">100</text>
<text class="lk" x="264" y="60.5">70</text><text class="lr" x="264" y="69.5">26762</text>
<text class="lk" x="504" y="60.5">70</text><text class="lr" x="504" y="69.5">27182</text>
<text class="lk" x="744" y="60.5">70</text><text class="lr" x="744" y="69.5">27602</text>
<text class="lk" x="984" y="60.5">70</text><text class="lr" x="984" y="69.5">28022</text>
</g>

<g id="row26" transform="translate(0,3350)">
<rect class="fl" x="25" y="-5" width="481" height="59"/>
<use href="#tk4"/><use href="#st4" x="25.5" y="0.5"/>
<g class="P"><path class="sus" d="M25 36h225"/><use href="#hd" x="25" y="36"/></g>
<g class="P"><path class="sus" d="M265 24h225"/><use href="#hd" x="265" y="24"/></g>
<g class="R"><path class="sus" d="M505 12h225"/><use href="#hd" x="505" y="12"/></g>
<g class="G"><path class="sus" d="M745 0h225"/><use href="#hd" x="745" y="0"/></g>
<text class="tm" x="25" y="-14">♩=106.2</text><text class="tm" x="265" y="-14">♩=106</text>
<text class="mn" x="25.5" y="-3.5">101</text><text class="mn" x="265.5" y="-3.5">102</text><text class="mn" x="505.5" y="-3.5">103</text><text class="mn" x="745.5" y="-3.5">104</text>
<text class="lk" x="264" y="60.5">70</text><text class="lr" x="264" y="69.5">28442</text><text class="lo" x="264" y="78.5">3.75 OD</text>
<text class="lk" x="504" y="60.5">70</text><text class="lr" x="504" y="69.5">28862</text><text class="lo" x="504" y="78.5">3.75 OD</text>
<text class="lk" x="744" y="60.5">70</text><text class="lr" x="744" y="69.5">29282</text>
<text class="lk" x="984" y="60.5">70</text><text class="lr" x="984" y="69.5">29702</text>
</g>

<g id="row27" transform="translate(0,3480)">
<rect class="fl" x="265" y="-5" width="241" height="59"/>
<use href="#tk4"/><use href="#st4" x="25.5" y="0.5"/>
<g class="B"><path class="sus" d="M25 36h225"/><use href="#hd" x="25" y="36"/></g>
<g class="P"><path class="sus" d="M265 24h225"/><use href="#hd" x="265" y="24"/></g>
<g class="R"><path class="sus" d="M505 12h225"/><use href="#hd" x="505" y="12"/></g>
<g class="G"><path class="sus" d="M745 0h225"/><use href="#hd" x="745" y="0"/></g>
<text class="tm" x="25" y="-14">♩=106.2</text><text class="tm" x="265" y="-14">♩=106</text><text class="tm" x="745" y="-14">♩=106.2</text>
<text class="mn" x="25.5" y="-3.5">105</text><text class="mn" x="265.5" y="-3.5">106</text><text class="mn" x="505.5" y="-3.5">107</text><text class="mn" x="745.5" y="-3.5">108</text>
<text class="lk" x="264" y="60.5">70</text><text class="lr" x="264" y="69.5">30122</text>
<text class="lk" x="504" y="60.5">70</text><text class="lr" x="504" y="69.5">30542</text><text class="lo" x="504" y="78.5">3.75 OD</text>
<text class="lk" x="744" y="60.5">70</text><text class="lr" x="744" y="69.5">30962</text>
<text class="lk" x="984" y="60.5">70</text><text class="lr" x="984" y="69.5">31382</text>
</g>

<g id="row28" transform="translate(0,3610)">
<use href="#tk4"/><use href="#st4" x="25.5" y="0.5"/>
<g class="B"><path class="sus" d="M25 36h225"/><use href="#hd" x="25" y="36"/></g>
<g class="Y"><path class="sus" d="M265 24h225"/><use href="#hd" x="265" y="24"/></g>
<g class="R"><path class="sus" d="M505 12h225"/><use href="#hd" x="505" y="12"/></g>
<g class="G"><path class="sus" d="M745 0h225"/><use href="#hd" x="745" y="0"/></g>
<text class="tm" x="25" y="-14">♩=106</text><text class="tm" x="265" y="-14">♩=106.2</text><text class="tm" x="505" y="-14">♩=106</text>
<text class="mn" x="25.5" y="-3.5">109</text><text class="mn" x="265.5" y="-3.5">110</text><text class="mn" x="505.5" y="-3.5">111</text><text class="mn" x="745.5" y="-3.5">112</text>
<text class="lk" x="264" y="60.5">70</text><text class="lr" x="264" y="69.5">31802</text>
<text class="lk" x="504" y="60.5">70</text><text class="lr" x="504" y="69.5">32222</text>
<text class="lk" x="744" y="60.5">70</text><text class="lr" x="744" y="69.5">32642</text>
<text class="lk" x="984" y="60.5">70</text><text class="lr" x="984" y="69.5">33062</text>
</g>

<g id="row29" transform="translate(0,3740)">
<use href="#tk4"/><use href="#st4" x="25.5" y="0.5"/>
<g class="B"><path class="sus" d="M25 36h225"/><use href="#hd" x="25" y="36"/></g>
<g class="Y"><path class="sus" d="M265 24h225"/><use href="#hd" x="265" y="24"/></g>
<g class="R"><path class="sus" d="M505 12h225"/><use href="#hd" x="505" y="12"/></g>
<g class="G"><path class="sus" d="M745 0h225"/><use href="#hd" x="745" y="0"/></g>
<text class="tm" x="265" y="-14">♩=106.2</text><text class="tm" x="505" y="-14">♩=106</text>
<text class="mn" x="25.5" y="-3.5">113</text><text class="mn" x="265.5" y="-3.5">114</text><text class="mn" x="505.5" y="-3.5">115</text><text class="mn" x="745.5" y="-3.5">116</text>
<text class="lk" x="264" y="60.5">70</text><text class="lr" x="264" y="69.5">33482</text>
<text class="lk" x="504" y="60.5">70</text><text class="lr" x="504" y="69.5">33902</text>
<text class="lk" x="744" y="60.5">70</text><text class="lr" x="744" y="69.5">34322</text>
<text class="lk" x="984" y="60.5">70</text><text class="lr" x="984" y="69.5">34742</text>
</g>

<g id="row30" transform="translate(0,3870)">
<use href="#tk4"/><use href="#st4" x="25.5" y="0.5"/>
<g class="B"><path class="sus" d="M25 36h225"/><use href="#hd" x="25" y="36"/></g>
<g class="Y"><path class="sus" d="M265 24h225"/><use href="#hd" x="265" y="24"/></g>
<g class="R"><path class="sus" d="M505 12h225"/><use href="#hd" x="505" y="12"/></g>
<g class="G"><path class="sus" d="M745 0h225"/><use href="#hd" x="745" y="0"/></g>
<text class="mn" x="25.5" y="-3.5">117</text><text class="mn" x="265.5" y="-3.5">118</text><text class="mn" x="505.5" y="-3.5">119</text><text class="mn" x="745.5" y="-3.5">120</text>
<text class="lk" x="264" y="60.5">70</text><text class="lr" x="264" y="69.5">35162</text>
<text class="lk" x="504" y="60.5">70</text><text class="lr" x="504" y="69.5">35582</text>
<text class="lk" x="744" y="60.5">70</text><text class="lr" x="744" y="69.5">36002</text>
<text class="lk" x="984" y="60.5">70</text><text class="lr" x="984" y="69.5">36422</text>
</g>

<g id="row31" transform="translate(0,4000)">
<use href="#tk4"/><use href="#st4" x="25.5" y="0.5"/>
<g class="R"><path class="sus" d="M25 12h960"/><use href="#hd" x="25" y="12"/></g>
<text class="mn" x="25.5" y="-3.5">121</text><text class="mn" x="265.5" y="-3.5">122</text><text class="mn" x="505.5" y="-3.5">123</text><text class="mn" x="745.5" y="-3.5">124</text>
<text class="lk" x="264" y="60.5">72</text><text class="lr" x="264" y="69.5">36860</text>
<text class="lk" x="504" y="60.5">48</text><text class="lr" x="504" y="69.5">37148</text>
<text class="lk" x="744" y="60.5">48</text><text class="lr" x="744" y="69.5">37436</text>
<text class="lk" x="984" y="60.5">48</text><text class="lr" x="984" y="69.5">37724</text>
</g>

<g id="row32" transform="translate(0,4130)">
<use href="#tk1"/><use href="#st1" x="25.5" y="0.5"/>
<text class="mn" x="25.5" y="-3.5">125</text>
<text class="lk" x="264" y="60.5">0</text><text class="lr" x="264" y="69.5">37724</text>
</g>

<g id="footer">
<text class="ft" x="0" y="4255.5" fill="#888">http://charts.ajanata.com/rb/</text>
<text class="ft" x="0" y="4269.5" fill="#f00">WARNING: Work in progress. This information has NOT BEEN VERIFIED and MAY BE INCORRECT.</text>
<text class="ft" x="1008" y="4255.5" fill="#888" text-anchor="end">Generated at Fri, 26 Aug 2011 07:50:31 -0400.</text>
<text class="ft" x="1008" y="4269.5" fill="#888" text-anchor="end">Generated by ajanata's Chart Generator, r299.</text>
</g>
</g>
</svg>
